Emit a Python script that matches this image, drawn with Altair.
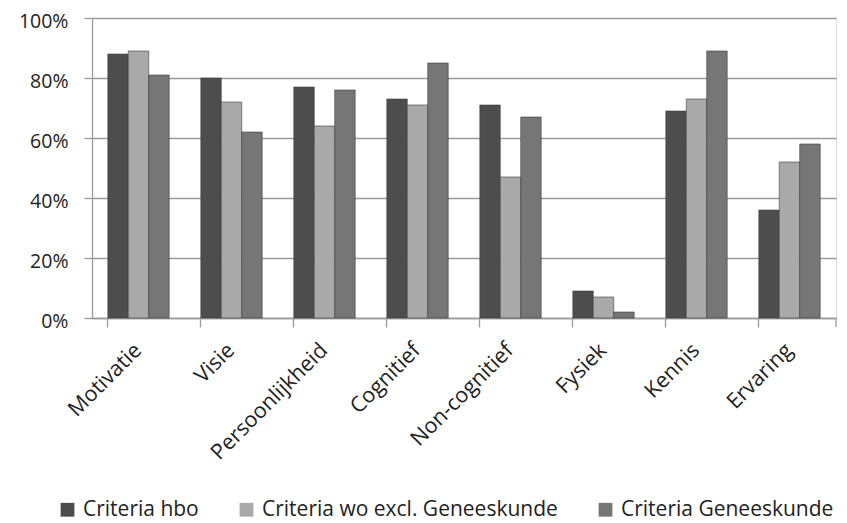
import altair as alt
import pandas as pd

categories = ["Motivatie", "Visie", "Persoonlijkheid", "Cognitief", "Non-cognitief", "Fysiek", "Kennis", "Ervaring"]
series = ["Criteria hbo", "Criteria wo excl. Geneeskunde", "Criteria Geneeskunde"]
hbo = [0.88, 0.80, 0.77, 0.73, 0.71, 0.09, 0.69, 0.36]
wo = [0.89, 0.72, 0.64, 0.71, 0.47, 0.07, 0.73, 0.52]
gen = [0.81, 0.62, 0.76, 0.85, 0.67, 0.02, 0.89, 0.58]
colors = ["#4d4d4d", "#a9a9a9", "#767676"]

rows = []
for s, vals in zip(series, [hbo, wo, gen]):
    for c, v in zip(categories, vals):
        rows.append({"Categorie": c, "Reeks": s, "Waarde": v})
df = pd.DataFrame(rows)

FONT = "Open Sans"
GRID = "#9a9a9a"

x_scale = alt.Scale(paddingInner=0.34, paddingOuter=0.17)

y_enc = alt.Y(
    "Waarde:Q", title=None,
    scale=alt.Scale(domain=[0, 1]),
    axis=alt.Axis(format="%", values=[0, 0.2, 0.4, 0.6, 0.8, 1.0], tickSize=8,
                  labelPadding=16, labelFontSize=19.5, labelFont=FONT, labelColor="#222222",
                  labelOffset=3,
                  grid=True, gridColor=GRID, gridWidth=1.3, tickColor=GRID, tickWidth=1.3,
                  domainColor=GRID, domainWidth=1.3),
)

bars = alt.Chart(df).mark_bar(stroke="#3c3c3c", strokeWidth=0.6).encode(
    x=alt.X(
        "Categorie:N", sort=categories, title=None, scale=x_scale,
        axis=alt.Axis(orient="bottom", labelAngle=-45, labelAlign="right", labelBaseline="middle",
                      labelPadding=29, labelFontSize=21.5, labelFont=FONT, labelColor="#222222",
                      ticks=False, domain=False, grid=False, labelLimit=300),
    ),
    xOffset=alt.XOffset("Reeks:N", sort=series, scale=alt.Scale(paddingInner=0, paddingOuter=0)),
    y=y_enc,
    color=alt.Color(
        "Reeks:N", sort=series, title=None,
        scale=alt.Scale(domain=series, range=colors),
        legend=alt.Legend(orient="none", direction="horizontal", legendX=-35, legendY=481,
                          symbolType="square", symbolSize=190, symbolStrokeWidth=0,
                          labelFontSize=21, labelFont=FONT, labelColor="#222222",
                          labelOffset=5, columnPadding=37, labelLimit=500),
    ),
)

ticks_layer = alt.Chart(df).mark_point(opacity=0).encode(
    x=alt.X("Categorie:N", sort=categories, title=None, scale=x_scale,
            axis=alt.Axis(orient="bottom", labels=False, bandPosition=0, tickSize=9,
                          tickColor=GRID, tickWidth=1.3, domainColor=GRID, domainWidth=1.3,
                          grid=False)),
    y=y_enc,
)

end_tick = alt.Chart(pd.DataFrame({"a": [0]})).mark_rule(color=GRID, strokeWidth=1.3).encode(
    x=alt.value(744), y=alt.value(300), y2=alt.value(309)
)

chart = alt.layer(bars, ticks_layer, end_tick).resolve_axis(x="independent").properties(
    width=744, height=300,
    autosize=alt.AutoSizeParams(type="none"),
    padding={"left": 84, "top": 10, "right": 3, "bottom": 205},
).configure_view(stroke=None).configure(font=FONT)

chart.save("out.html", embed_options={"renderer": "svg", "actions": False})
